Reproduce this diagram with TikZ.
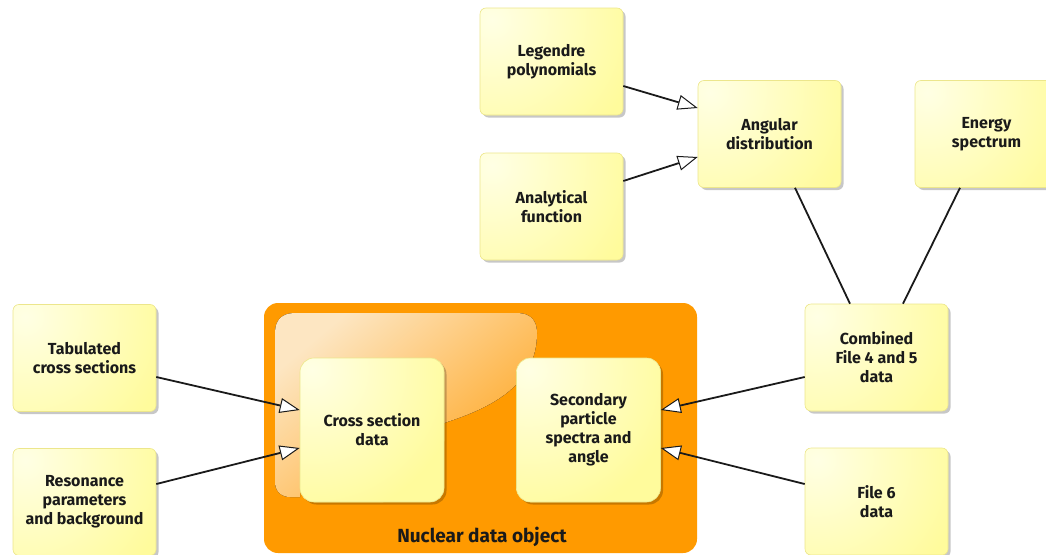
\documentclass[tikz,border=0pt]{standalone}
\usepackage{fontspec}
\setmainfont{Fira Sans}
\usetikzlibrary{arrows.meta,shadows,calc}

\definecolor{boxyellow}{HTML}{FFFB9C}
\definecolor{boxedge}{HTML}{ECE68C}
\definecolor{boxshine}{HTML}{FFFFE4}
\definecolor{orangebg}{HTML}{FF9A00}
\definecolor{orangeshine}{HTML}{FDE6C2}
\definecolor{orangemid}{HTML}{FFA622}
\definecolor{inkcol}{HTML}{1A1A1A}

\tikzset{
  ybox/.style={rounded corners=6pt, fill=boxyellow, draw=boxedge, line width=0.6pt,
    minimum width=143pt, minimum height=107pt, inner sep=0pt, align=center,
    font=\fontsize{16}{19}\selectfont\bfseries, text=inkcol,
    drop shadow={shadow xshift=2.5pt, shadow yshift=-2.5pt, fill=black, opacity=0.22},
    path picture={
      % soft glow in the upper left corner
      \shade[inner color=boxshine, outer color=boxyellow]
        ([shift={(12pt,-12pt)}]path picture bounding box.north west) circle (150pt);
    }},
  ibox/.style={ybox, rounded corners=14pt, minimum width=144pt, minimum height=144pt},
  conn/.style={draw=inkcol, line width=1.8pt},
  tip/.style={conn, -{Triangle[length=20pt, width=15pt, fill=white, line width=1pt]}},
  container/.style={fill=orangebg, rounded corners=14pt, minimum width=433pt, minimum height=250pt, inner sep=0pt},
  ctitle/.style={font=\fontsize{19}{21}\selectfont\bfseries, text=inkcol},
}

\begin{document}
\begin{tikzpicture}[x=1pt, y=-1pt]
  \useasboundingbox (0,0) rectangle (1046,554);
  \clip (0,0) rectangle (1046,554);

  % container for the nuclear data object
  \node[container] (ndo) at (480.5,428) {};
  \fill[top color=orangeshine, bottom color=orangemid, shading angle=40]
    (275,333) .. controls (275,320) and (282,313) .. (295,313)
    -- (517,313) .. controls (530,313) and (537,320) .. (537,333)
    .. controls (537,380) and (500,405) .. (447,422)
    -- (300,480) -- (300,497) -- (290,497)
    .. controls (281,497) and (275,491) .. (275,482) -- cycle;
  \node[ctitle] (ndotitle) at (482,537) {Nuclear data object};

  % inner data blocks
  \node[ibox] (xs)  at (372,430) {Cross section\\data};
  \node[ibox] (sec) at (588.5,430) {Secondary\\particle\\spectra and\\angle};

  % source boxes
  \node[ybox] (leg) at (551.5,61.5)  {Legendre\\polynomials};
  \node[ybox] (ana) at (551.5,206.5) {Analytical\\function};
  \node[ybox] (ang) at (769.5,134)   {Angular\\distribution};
  \node[ybox] (ene) at (986.5,134)   {Energy\\spectrum};
  \node[ybox] (tab) at (84.5,358)    {Tabulated\\cross sections};
  \node[ybox] (res) at (84.5,502)    {Resonance\\parameters\\and background};
  \node[ybox] (cmb) at (876.5,357.5) {Combined\\File 4 and 5\\data};
  \node[ybox] (f6)  at (876.5,501.5) {File 6\\data};

  % connectors
  \draw[tip] ([yshift=-24.5pt]leg.east) -- ([yshift=26pt]ang.west);
  \draw[tip] ([yshift=25.5pt]ana.east) -- ([yshift=-23pt]ang.west);
  \draw[conn] ([xshift=25.5pt]ang.south) -- ([xshift=-26.5pt]cmb.north);
  \draw[conn] ([xshift=-26.5pt]ene.south) -- ([xshift=26.5pt]cmb.north);
  \draw[tip] ([yshift=-19pt]tab.east) -- ([yshift=20pt]xs.west);
  \draw[tip] ([yshift=18pt]res.east) -- ([yshift=-18pt]xs.west);
  \draw[tip] ([yshift=-19.5pt]cmb.west) -- ([yshift=20pt]sec.east);
  \draw[tip] ([yshift=17.5pt]f6.west) -- ([yshift=-18pt]sec.east);
\end{tikzpicture}
\end{document}
